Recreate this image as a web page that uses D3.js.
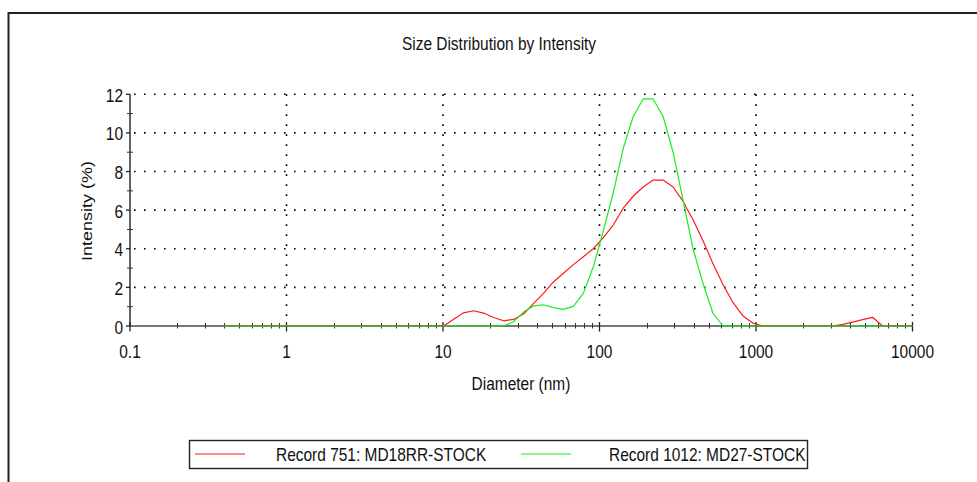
<!DOCTYPE html>
<html>
<head>
<meta charset="utf-8">
<script src="https://cdn.jsdelivr.net/npm/d3@7"></script>
<style>
  body { margin: 0; background: #fff; }
  svg text { font-family: "Liberation Sans", Arial, sans-serif; fill: #111; }
</style>
</head>
<body>
<svg id="chart" width="977" height="482"></svg>
<script>
// Size classes (nm) of the measurement
const sizes = [0.4000, 0.4632, 0.5365, 0.6213, 0.7195, 0.8332, 0.9649, 1.117, 1.294, 1.499,
  1.736, 2.010, 2.328, 2.696, 3.122, 3.615, 4.187, 4.849, 5.615, 6.503,
  7.531, 8.721, 10.10, 11.70, 13.54, 15.69, 18.17, 21.04, 24.36, 28.21,
  32.67, 37.84, 43.82, 50.75, 58.77, 68.06, 78.82, 91.28, 105.7, 122.4,
  141.8, 164.2, 190.1, 220.2, 255.0, 295.3, 342.0, 396.1, 458.7, 531.2,
  615.1, 712.4, 825.0, 955.4, 1106, 1281, 1484, 1718, 1990, 2305,
  2669, 3091, 3580, 4145, 4801, 5560, 6439, 7456, 8635, 10000];

// Intensity (%) per size class
const record751 = [0, 0, 0, 0, 0, 0, 0, 0, 0, 0,
  0, 0, 0, 0, 0, 0, 0, 0, 0, 0,
  0, 0, 0, 0.35, 0.68, 0.79, 0.67, 0.44, 0.27, 0.34,
  0.62, 1.16, 1.69, 2.28, 2.73, 3.18, 3.59, 4.0, 4.58, 5.23,
  6.1, 6.72, 7.2, 7.56, 7.56, 7.2, 6.45, 5.5, 4.42, 3.22,
  2.15, 1.22, 0.52, 0.15, 0, 0, 0, 0, 0, 0,
  0, 0, 0.08, 0.2, 0.33, 0.45, 0, 0, 0, 0];

const record1012 = [0, 0, 0, 0, 0, 0, 0, 0, 0, 0,
  0, 0, 0, 0, 0, 0, 0, 0, 0, 0,
  0, 0, 0, 0, 0, 0, 0, 0, 0, 0.22,
  0.72, 1.04, 1.1, 0.95, 0.86, 1.02, 1.69, 3.07, 4.9, 6.9,
  9.2, 10.85, 11.76, 11.76, 10.85, 9.0, 6.5, 4.0, 2.2, 0.65,
  0, 0, 0, 0, 0, 0, 0, 0, 0, 0,
  0, 0, 0, 0, 0, 0, 0, 0, 0, 0];

const seriesNames = ["Record 751: MD18RR-STOCK", "Record 1012: MD27-STOCK"];
const seriesColors = ["#ff1a1a", "#1aee1a"];

const xTicks = [0.1, 1, 10, 100, 1000, 10000];
const xTickLabels = ["0.1", "1", "10", "100", "1000", "10000"];
const yTicks = [0, 2, 4, 6, 8, 10, 12];
const yTickLabels = ["0", "2", "4", "6", "8", "10", "12"];

const titleText = "Size Distribution by Intensity";
const xTitle = "Diameter (nm)";
const yTitle = "Intensity (%)";

const svg = d3.select("#chart");
const fontSize = 18;
const squeeze = 0.86;   // horizontal condensing of all lettering

// text placed at (tx, ty); the page's x direction is condensed
function label(parent, tx, ty, str, anchor, rot) {
  const t = `translate(${tx},${ty})` +
    (rot ? ` rotate(${rot}) scale(1,${squeeze})` : ` scale(${squeeze},1)`);
  return parent.append("text")
    .attr("transform", t)
    .attr("text-anchor", anchor || "start")
    .attr("font-size", fontSize)
    .text(str);
}

// outer frame (top and left edges)
svg.append("path")
  .attr("d", "M8.5,482 V13 H977")
  .attr("fill", "none")
  .attr("stroke", "#222")
  .attr("stroke-width", 2);

const x = d3.scaleLog().domain([0.1, 10000]).range([130, 912.5]);
const y = d3.scaleLinear().domain([0, 12]).range([326, 94.3]);

// title
label(svg, 499, 50, titleText, "middle");

// dotted grid
const grid = svg.append("g")
  .attr("stroke", "#000")
  .attr("stroke-width", 1.6)
  .attr("stroke-dasharray", "1.6,8.4");

grid.selectAll("line.h").data(yTicks.filter(d => d > 0)).join("line")
  .attr("class", "h")
  .attr("x1", x(0.1) + 4).attr("x2", x(10000))
  .attr("y1", d => y(d)).attr("y2", d => y(d));

grid.selectAll("line.v").data(xTicks.filter(d => d > 0.1)).join("line")
  .attr("class", "v")
  .attr("x1", d => x(d)).attr("x2", d => x(d))
  .attr("y1", y(12)).attr("y2", y(0) - 4);

// x axis
const xMinor = [];
for (let p = -1; p < 4; p++) {
  for (let m = 2; m <= 9; m++) xMinor.push(m * Math.pow(10, p));
}

const xAxisG = svg.append("g");
xAxisG.append("line")
  .attr("x1", x(0.1)).attr("x2", x(10000))
  .attr("y1", y(0)).attr("y2", y(0))
  .attr("stroke", "#777").attr("stroke-width", 2);

xAxisG.selectAll("line.minor").data(xMinor).join("line")
  .attr("class", "minor")
  .attr("x1", d => Math.round(x(d)) + 0.5).attr("x2", d => Math.round(x(d)) + 0.5)
  .attr("y1", y(0) - 3).attr("y2", y(0) + 2.5)
  .attr("stroke", "#333").attr("stroke-width", 1);

xAxisG.selectAll("line.major").data(xTicks).join("line")
  .attr("class", "major")
  .attr("x1", d => x(d)).attr("x2", d => x(d))
  .attr("y1", y(0) - 4).attr("y2", y(0) + 5.5)
  .attr("stroke", "#222").attr("stroke-width", 1.3);

xTicks.forEach((d, i) => label(xAxisG, x(d), 358, xTickLabels[i], "middle"));

label(svg, 521, 390, xTitle, "middle");

// y axis
const yAxisG = svg.append("g");
yAxisG.append("line")
  .attr("x1", x(0.1)).attr("x2", x(0.1))
  .attr("y1", y(12)).attr("y2", y(0))
  .attr("stroke", "#222").attr("stroke-width", 1.4);

yAxisG.selectAll("line.major").data(yTicks).join("line")
  .attr("class", "major")
  .attr("x1", x(0.1) - 4).attr("x2", x(0.1))
  .attr("y1", d => y(d)).attr("y2", d => y(d))
  .attr("stroke", "#222").attr("stroke-width", 1.3);

yAxisG.selectAll("line.minor").data([1, 3, 5, 7, 9, 11]).join("line")
  .attr("class", "minor")
  .attr("x1", x(0.1) - 3).attr("x2", x(0.1) + 3)
  .attr("y1", d => y(d)).attr("y2", d => y(d))
  .attr("stroke", "#333").attr("stroke-width", 1);

yTicks.forEach((d, i) => label(yAxisG, 123, y(d) + 7.5, yTickLabels[i], "end"));

label(svg, 92, 211, yTitle, "middle", -90);

// distribution curves
const line = d3.line()
  .x(d => x(d[0]))
  .y(d => y(d[1]));

[record751, record1012].forEach((vals, i) => {
  svg.append("path")
    .datum(sizes.map((s, k) => [s, vals[k]]))
    .attr("fill", "none")
    .attr("stroke", seriesColors[i])
    .attr("stroke-width", 1.2)
    .attr("stroke-linejoin", "round")
    .attr("d", line);
});

// legend
const legend = svg.append("g");
legend.append("rect")
  .attr("x", 189.5).attr("y", 440.5)
  .attr("width", 618).attr("height", 28)
  .attr("fill", "#fff").attr("stroke", "#222").attr("stroke-width", 1.4);

const legendItems = [
  { lineX: 195, textX: 276 },
  { lineX: 521, textX: 609 }
];
legendItems.forEach((it, i) => {
  legend.append("line")
    .attr("x1", it.lineX).attr("x2", it.lineX + 50)
    .attr("y1", 454).attr("y2", 454)
    .attr("stroke", seriesColors[i]).attr("stroke-width", 1.2);
  label(legend, it.textX, 461, seriesNames[i], "start");
});
</script>
</body>
</html>
